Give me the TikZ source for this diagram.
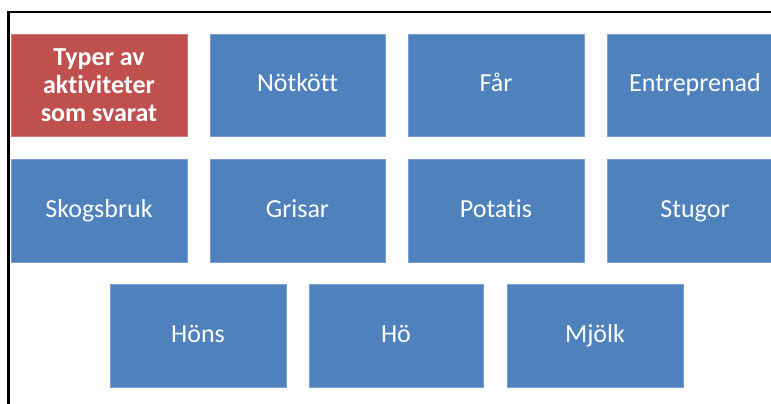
\documentclass[tikz,border=0pt]{standalone}
\usepackage{fontspec}
\setmainfont[Ligatures=NoCommon]{Carlito}
\definecolor{boxblue}{HTML}{4F81BD}
\definecolor{boxred}{HTML}{C0504D}
\definecolor{edgeblue}{HTML}{7A9FD0}
\definecolor{edgered}{HTML}{D07C79}
\begin{document}
\begin{tikzpicture}[x=1pt,y=-1pt,
  tile/.style={rectangle, inner sep=0pt, line width=0.8pt, text=white,
    font=\fontsize{26}{29}\selectfont, align=center},
  bluetile/.style={tile, fill=boxblue, draw=edgeblue, text height=19pt, text depth=5pt},
  redtile/.style={tile, fill=boxred, draw=edgered, font=\fontsize{26}{28}\selectfont\bfseries},
  frame/.style={line width=2.4pt, black}]
\useasboundingbox (0,0) rectangle (771,404);
% frame
\coordinate (ftop) at (771,12);
\coordinate (fcorner) at (8.5,12);
\coordinate (fbot) at (8.5,404);
\draw[frame] (ftop) -- (fcorner) -- (fbot);
% row 1
\node[redtile, minimum width=176pt, minimum height=102pt] (typer) at (99,85) {Typer av\\aktiviteter\\som svarat};
\node[bluetile, minimum width=175pt, minimum height=102pt] (notkott) at (297.5,85) {Nötkött};
\node[bluetile, minimum width=176pt, minimum height=102pt] (far) at (496,85) {Får};
\node[bluetile, minimum width=176pt, minimum height=102pt] (entr) at (695,85) {Entreprenad};
% row 2
\node[bluetile, minimum width=176pt, minimum height=103pt] (skog) at (99,210.5) {Skogsbruk};
\node[bluetile, minimum width=175pt, minimum height=103pt] (gris) at (297.5,210.5) {Grisar};
\node[bluetile, minimum width=176pt, minimum height=103pt] (potatis) at (496,210.5) {Potatis};
\node[bluetile, minimum width=176pt, minimum height=103pt] (stugor) at (695,210.5) {Stugor};
% row 3
\node[bluetile, minimum width=176pt, minimum height=103pt] (hons) at (198,335.5) {Höns};
\node[bluetile, minimum width=174pt, minimum height=103pt] (ho) at (396,335.5) {Hö};
\node[bluetile, minimum width=176pt, minimum height=103pt] (mjolk) at (595,335.5) {Mjölk};
\end{tikzpicture}
\end{document}
